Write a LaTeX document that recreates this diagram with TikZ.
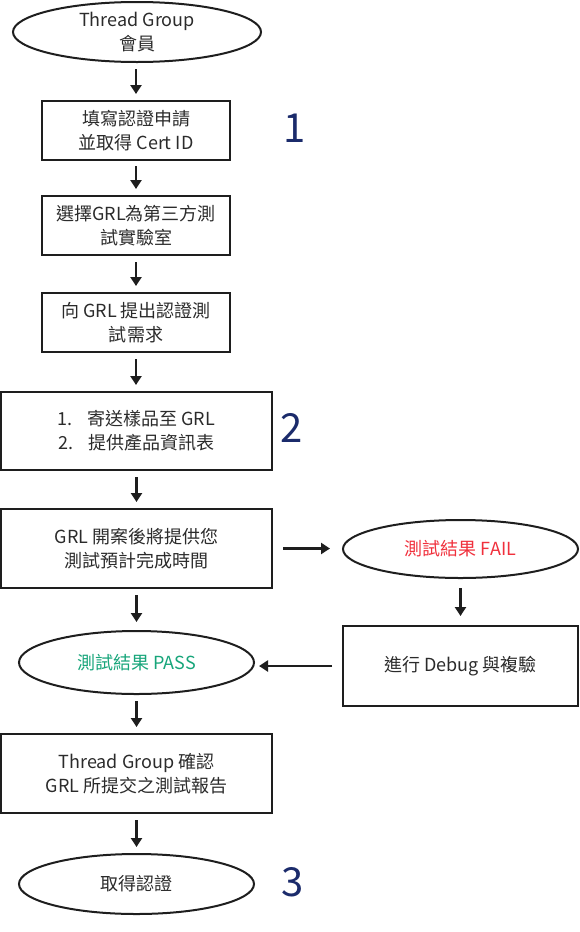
\documentclass[tikz,border=0pt]{standalone}
\usepackage{fontspec}
\setmainfont{Noto Sans CJK TC}
\usetikzlibrary{shapes.geometric,arrows.meta}
\definecolor{txt}{HTML}{2B2B2B}
\definecolor{line}{HTML}{1E1E1E}
\definecolor{navy}{HTML}{1B2B6B}
\definecolor{failred}{HTML}{F0303C}
\definecolor{passgreen}{HTML}{17A57A}
\tikzset{
  box/.style={draw=line, line width=2pt, rectangle, inner sep=0pt, align=center, text=txt, font=\fontsize{18}{24}\selectfont},
  oval/.style={draw=line, line width=2pt, ellipse, inner sep=0pt, align=center, text=txt, font=\fontsize{18}{24}\selectfont},
  flow/.style={draw=line, line width=2.8pt, -{Triangle[length=9pt,width=11pt]}},
  stepnum/.style={text=navy, font=\fontsize{40}{40}\selectfont, inner sep=0pt}
}
\begin{document}
\begin{tikzpicture}[x=1pt,y=-1pt]
\useasboundingbox (0,0) rectangle (579,932);
\node[oval, minimum width=248pt, minimum height=60pt] (start) at (137,32) {Thread Group\\會員};
\node[box, minimum width=188pt, minimum height=59pt] (b1) at (136,130.5) {填寫認證申請\\並取得 Cert ID};
\node[box, minimum width=188pt, minimum height=59pt] (b2) at (136,225.5) {選擇GRL為第三方測\\試實驗室};
\node[box, minimum width=188pt, minimum height=59pt] (b3) at (136,322.5) {向 GRL 提出認證測\\試需求};
\node[box, minimum width=271pt, minimum height=78pt] (b4) at (136.5,431) {1.\hspace{0.8em}寄送樣品至 GRL\\2.\hspace{0.8em}提供產品資訊表};
\node[box, minimum width=271pt, minimum height=79pt] (b5) at (136.5,548.5) {GRL 開案後將提供您\\測試預計完成時間};
\node[oval, minimum width=235pt, minimum height=58pt, text=failred] (fail) at (460.5,549) {測試結果 FAIL};
\node[box, minimum width=235pt, minimum height=80pt] (dbg) at (460.5,666) {進行 Debug 與複驗};
\node[oval, minimum width=235pt, minimum height=63pt, text=passgreen] (pass) at (136.5,662.5) {測試結果 PASS};
\node[box, minimum width=271pt, minimum height=79pt] (b6) at (136.5,773.5) {Thread Group 確認\\GRL 所提交之測試報告};
\node[oval, minimum width=235pt, minimum height=60pt] (end) at (136.5,884) {取得認證};
\node[stepnum] (n1) at (295,128) {1};
\node[stepnum] (n2) at (292,428) {2};
\node[stepnum] (n3) at (293,882) {3};
\draw[flow, shorten <=6pt, shorten >=6pt] (start.south -| b1.north) -- (b1.north);
\draw[flow, shorten <=5pt, shorten >=6pt] (b1) -- (b2);
\draw[flow, shorten <=6pt, shorten >=6pt] (b2) -- (b3);
\draw[flow, shorten <=6pt, shorten >=6pt] (b3.south) -- (b3.south |- b4.north);
\draw[flow, shorten <=6pt, shorten >=6pt] (b4) -- (b5);
\draw[flow, shorten <=10pt, shorten >=12pt] (b5.east) -- (b5.east -| fail.west);
\draw[flow, shorten <=9pt, shorten >=9pt] (fail) -- (dbg);
\draw[flow, shorten <=10pt, shorten >=4pt] (dbg.west) -- (pass.east |- dbg.west);
\draw[flow, shorten <=6pt, shorten >=8pt] (b5.south) -- (b5.south |- pass.north);
\draw[flow, shorten <=6pt, shorten >=6pt] (pass.south) -- (pass.south |- b6.north);
\draw[flow, shorten <=6pt, shorten >=6pt] (b6) -- (end);
\end{tikzpicture}
\end{document}
